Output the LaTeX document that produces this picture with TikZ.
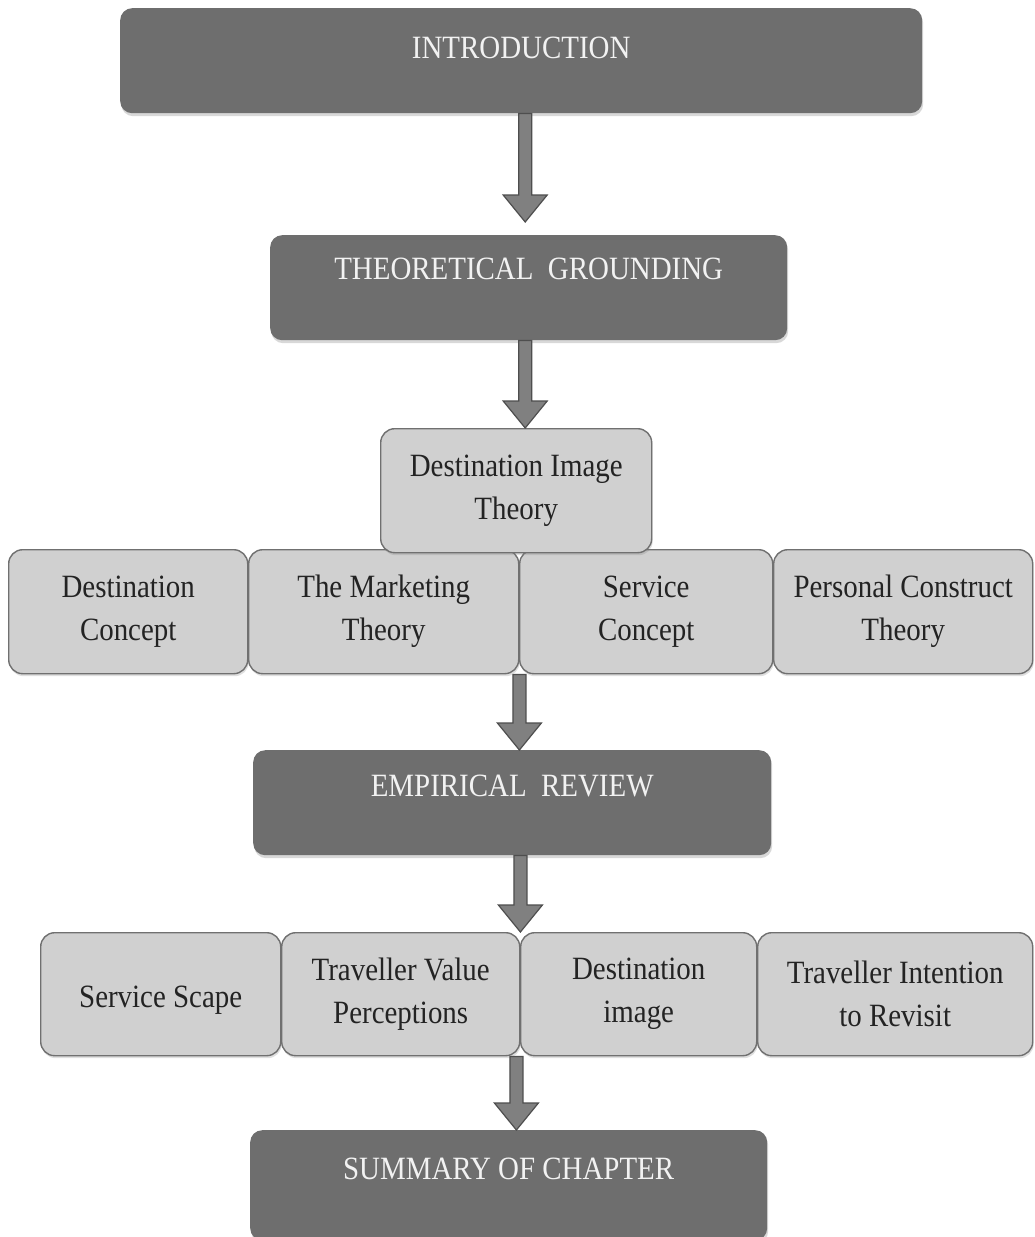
\documentclass[tikz,border=0pt]{standalone}
\usepackage{fontspec}
\setmainfont[FakeStretch=0.89]{Liberation Serif}
\usetikzlibrary{calc,shadows}
\definecolor{titlefill}{RGB}{110,110,110}
\definecolor{titletext}{RGB}{242,242,242}
\definecolor{topicfill}{RGB}{208,208,208}
\definecolor{topicline}{RGB}{112,112,112}
\definecolor{topictext}{RGB}{35,35,35}
\definecolor{arrowfill}{RGB}{128,128,128}
\definecolor{arrowline}{RGB}{78,78,78}
\begin{document}
\begin{tikzpicture}[x=1pt,y=-1pt,
  titlebox/.style={fill=titlefill, rounded corners=12pt, anchor=north west,
    inner xsep=0pt, inner ysep=0pt, text=titletext,
    font=\fontsize{32.5}{40}\selectfont,
    drop shadow={shadow xshift=1pt, shadow yshift=-3pt, opacity=0.3}},
  topicbox/.style={draw=topicline, line width=1.4pt, fill=topicfill,
    rounded corners=14pt, anchor=north west, inner sep=0pt, align=center,
    text=topictext, font=\fontsize{32.5}{43}\selectfont,
    drop shadow={shadow xshift=1pt, shadow yshift=-2.5pt, opacity=0.25}},
  blockarrow/.style={draw=arrowline, line width=1.2pt, fill=arrowfill,
    to path={let \p1=(\tikztostart), \p2=(\tikztotarget) in
      (\x1-6.5pt,\y1) -- (\x1-6.5pt,\y2+27pt) -- (\x1-22pt,\y2+27pt)
      -- (\x1,\y2) -- (\x1+22pt,\y2+27pt) -- (\x1+6.5pt,\y2+27pt)
      -- (\x1+6.5pt,\y1) -- cycle}}
]
\useasboundingbox[fill=white] (0,0) rectangle (1035,1237);

% main stages
\node[titlebox, minimum width=802pt, minimum height=105pt,
      text height=50pt, text depth=55pt] (intro) at (120,8) {INTRODUCTION};
\node[titlebox, minimum width=517pt, minimum height=105pt,
      text height=44pt, text depth=61pt] (theo) at (270,235) {THEORETICAL\ \ GROUNDING};
\node[titlebox, minimum width=518pt, minimum height=105pt,
      text height=46pt, text depth=59pt] (emp) at (253,750) {EMPIRICAL\ \ REVIEW};
\node[titlebox, minimum width=517pt, minimum height=110pt,
      text height=49pt, text depth=61pt] (summ) at (250,1130) {SUMMARY OF CHAPTER};

% theories
\node[topicbox, minimum width=239pt, minimum height=124pt] (dc) at (8,549) {Destination\\Concept};
\node[topicbox, minimum width=270pt, minimum height=124pt] (mkt) at (248,549) {The Marketing\\Theory};
\node[topicbox, minimum width=253pt, minimum height=124pt] (svc) at (519,549) {Service\\Concept};
\node[topicbox, minimum width=259pt, minimum height=124pt] (pct) at (773,549) {Personal Construct\\Theory};
\node[topicbox, minimum width=271pt, minimum height=124pt] (dit) at (380,428) {Destination Image\\Theory};

% empirical themes
\node[topicbox, minimum width=240pt, minimum height=123pt] (ss) at (40,932) {\raisebox{-6pt}[\height][\depth]{Service Scape}};
\node[topicbox, minimum width=238pt, minimum height=123pt] (tvp) at (281,932) {Traveller Value\\Perceptions};
\node[topicbox, minimum width=236pt, minimum height=123pt] (dimg) at (520,932) {Destination\\image};
\node[topicbox, minimum width=275pt, minimum height=123pt] (tir) at (757,932) {Traveller Intention\\to Revisit};

% flow arrows
\coordinate (intro-out) at ($(intro.south)+(4,0)$);
\draw[blockarrow] (intro-out) to ($(theo.north)+(0,-13)$);
\draw[blockarrow] (theo.south -| intro-out) to (dit.north);
\draw[blockarrow] (mkt.south east) to (emp.north);
\draw[blockarrow] (emp.south -| tvp.east) to (tvp.north east);
\draw[blockarrow] ($(tvp.south east)+(-4,0)$) to (summ.north);
\end{tikzpicture}
\end{document}
